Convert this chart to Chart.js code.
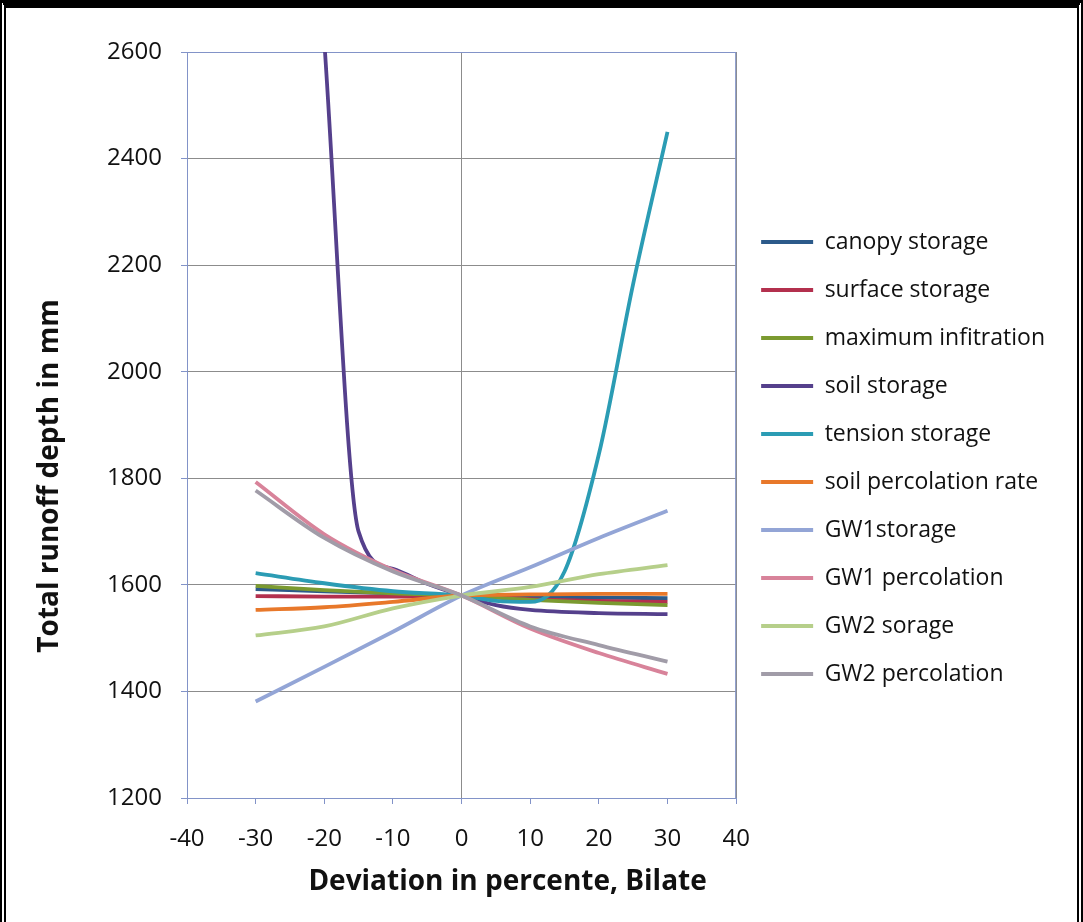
<!DOCTYPE html>
<html>
<head>
<meta charset="utf-8">
<script src="https://cdn.jsdelivr.net/npm/chart.js@4.4.1/dist/chart.umd.min.js"></script>
<style>
  html, body { margin: 0; padding: 0; background: #fff; }
  #wrap { position: relative; width: 1083px; height: 922px; }
  #chart { position: absolute; left: 0; top: 0; }
  /* the black frame round the picture */
  #frame {
    position: absolute; left: 0; top: 0; right: 0; bottom: 0;
    border-top: 8px solid #000;
    border-left: 6px double #000;
    border-right: 6px double #000;
    pointer-events: none;
  }
</style>
</head>
<body>
<div id="wrap">
  <canvas id="chart" width="1083" height="922"></canvas>
  <div id="frame"></div>
</div>
<script>
// deviation in percent
const xMain = [-30, -20, -10, 0, 10, 20, 30];
const soilX = [-30, -20, -15, -10, -5, 0, 5, 10, 20, 30];
const tensionX = [-30, -20, -10, 0, 5, 10, 15, 20, 25, 30];

// total runoff depth in mm
const canopy = [1592, 1588, 1584, 1580, 1578, 1576, 1575];
const surface = [1579, 1578, 1578, 1580, 1573, 1570, 1568];
const maxInf = [1598, 1590, 1584, 1580, 1572, 1566, 1562];
const soil = [4500, 2620, 1700, 1630, 1602, 1580, 1562, 1553, 1547, 1545];
const tension = [1622, 1603, 1588, 1580, 1570, 1568, 1625, 1845, 2165, 2450];
const soilPerc = [1553, 1558, 1568, 1580, 1582, 1583, 1583];
const gw1Storage = [1381, 1446, 1512, 1580, 1633, 1688, 1739];
const gw1Perc = [1793, 1695, 1628, 1580, 1518, 1472, 1433];
const gw2Storage = [1505, 1522, 1556, 1580, 1596, 1620, 1637];
const gw2Perc = [1777, 1688, 1625, 1580, 1522, 1487, 1456];

const seriesNames = ['canopy storage', 'surface storage', 'maximum infitration', 'soil storage',
  'tension storage', 'soil percolation rate', 'GW1storage', 'GW1 percolation', 'GW2 sorage', 'GW2 percolation'];
const seriesColors = ['#2c5a8a', '#b3304e', '#7b9a30', '#55408c', '#2b9cb4',
  '#e8782a', '#93a5d6', '#d8839a', '#b6cf8a', '#a19ca8'];

const xTitle = 'Deviation in percente, Bilate';
const yTitle = 'Total runoff depth in mm';

const FONT = '"Open Sans", "Noto Sans", sans-serif';
const axisBlue = '#8293c8';

function pts(xs, ys) {
  return xs.map((x, i) => ({ x: x, y: ys[i] }));
}

const seriesData = [
  pts(xMain, canopy), pts(xMain, surface), pts(xMain, maxInf), pts(soilX, soil),
  pts(tensionX, tension), pts(xMain, soilPerc), pts(xMain, gw1Storage), pts(xMain, gw1Perc),
  pts(xMain, gw2Storage), pts(xMain, gw2Perc)
];

const datasets = seriesData.map((d, i) => ({
  label: seriesNames[i],
  data: d,
  borderColor: seriesColors[i],
  backgroundColor: seriesColors[i],
  borderWidth: 3.8,
  showLine: true,
  pointRadius: 0,
  cubicInterpolationMode: 'monotone',
  clip: 0,
  order: -i // later series on top, like the original
}));

// plot area outline and axis titles
const extras = {
  id: 'extras',
  beforeDatasetsDraw(chart) {
    const { ctx, chartArea: a } = chart;
    ctx.save();
    ctx.strokeStyle = axisBlue;
    ctx.lineWidth = 1;
    ctx.strokeRect(a.left + 0.5, a.top + 0.5, a.right - a.left - 1, a.bottom - a.top);
    ctx.restore();
  },
  afterDraw(chart) {
    const { ctx, chartArea: a } = chart;
    ctx.save();
    ctx.font = 'bold 28px ' + FONT;
    ctx.fillStyle = '#111';
    ctx.textAlign = 'center';
    ctx.textBaseline = 'middle';
    ctx.fillText(xTitle, (a.left + a.right) / 2 + 46, a.bottom + 84);
    ctx.translate(50, (a.top + a.bottom) / 2 + 51);
    ctx.rotate(-Math.PI / 2);
    ctx.fillText(yTitle, 0, 0);
    ctx.restore();
  }
};

new Chart(document.getElementById('chart'), {
  type: 'scatter',
  data: { datasets: datasets },
  options: {
    responsive: false,
    animation: false,
    layout: { padding: { left: 100, right: 28, top: 52, bottom: 58 } },
    plugins: {
      tooltip: { enabled: false },
      legend: {
        position: 'right',
        maxWidth: 420,
        labels: {
          boxWidth: 52,
          boxHeight: 4,
          padding: 25,
          color: '#111',
          font: { family: FONT, size: 23 },
          sort: (a, b) => a.datasetIndex - b.datasetIndex,
          generateLabels(chart) {
            const items = Chart.defaults.plugins.legend.labels.generateLabels(chart);
            return items.map(it => Object.assign(it, { fillStyle: it.strokeStyle, lineWidth: 0 }));
          }
        }
      }
    },
    scales: {
      x: {
        type: 'linear',
        min: -40,
        max: 40,
        afterFit(scale) { scale.height = 66; },
        ticks: { stepSize: 10, padding: 21, color: '#111', font: { family: FONT, size: 24 } },
        grid: {
          color: c => (c.tick && c.tick.value % 40 === 0) ? '#8c8c8c' : 'rgba(0,0,0,0)',
          tickColor: axisBlue,
          tickLength: 6
        },
        border: { color: axisBlue }
      },
      y: {
        min: 1200,
        max: 2600,
        afterFit(scale) { scale.width = 87; },
        ticks: {
          stepSize: 200, padding: 19, color: '#111', font: { family: FONT, size: 24 },
          callback: v => String(v)
        },
        grid: { color: '#8c8c8c', tickColor: axisBlue, tickLength: 6 },
        border: { color: axisBlue }
      }
    }
  },
  plugins: [extras]
});
</script>
</body>
</html>
